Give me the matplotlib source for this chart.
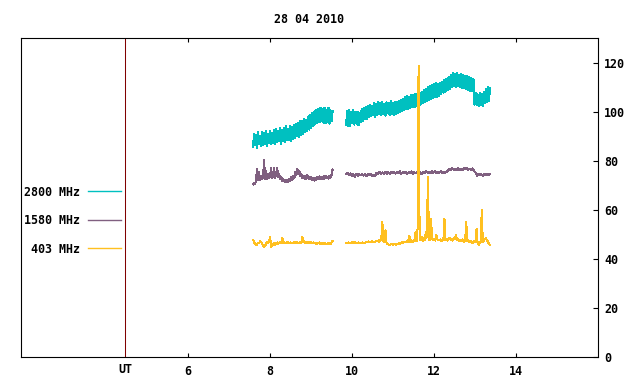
import numpy as np
import matplotlib
matplotlib.use("Agg")
import matplotlib.pyplot as plt
from matplotlib.lines import Line2D

# ---------------- data ----------------
title = "28 04 2010"
x_ticks = [6, 8, 10, 12, 14]
x_tick_labels = ["6", "8", "10", "12", "14"]
y_ticks = [0, 20, 40, 60, 80, 100, 120]
y_tick_labels = ["0", "20", "40", "60", "80", "100", "120"]
ut_x = 4.46
ut_label = "UT"
series_names = ["2800 MHz", "1580 MHz", "403 MHz"]

# sampling windows (UT hours) of the two recorded segments
seg1_start, seg1_end = 7.58, 9.52
seg2_start, seg2_end = 9.85, 13.36

f2800_seg1 = [
    85.8, 91.2, 86.4, 90.6, 85.2, 91.8, 86.8, 90.0, 86.0, 92.0,
    86.6, 91.4, 87.0, 92.4, 86.2, 91.0, 87.4, 92.2, 86.8, 91.6,
    87.2, 92.8, 86.8, 93.0, 87.6, 92.2, 88.0, 93.4, 87.0, 92.6,
    88.2, 93.6, 87.8, 94.2, 88.4, 93.0, 88.6, 94.4, 88.0, 94.0,
    89.0, 94.6, 89.4, 95.2, 90.0, 95.6, 89.6, 96.2, 90.6, 96.4,
    91.0, 97.2, 91.8, 96.8, 92.2, 98.2, 92.8, 98.8, 93.6, 99.6,
    94.2, 100.2, 95.0, 100.8, 95.4, 101.4, 95.8, 101.8, 96.2, 101.2,
    95.6, 101.6, 95.4, 101.0, 96.0, 101.8, 95.2, 100.6, 96.2, 100.2,
]
f2800_seg2 = [
    94.6, 100.2, 94.4, 100.6, 94.2, 99.8, 95.4, 101.0, 94.8, 99.8,
    95.2, 100.0, 94.6, 99.6, 95.8, 101.2, 96.4, 101.8, 97.0, 102.2,
    97.2, 102.6, 97.8, 103.0, 98.2, 102.4, 98.6, 103.6, 98.0, 103.2,
    98.8, 104.0, 99.0, 103.8, 98.6, 104.2, 99.2, 103.4, 98.4, 104.0,
    99.4, 103.8, 98.8, 104.4, 99.0, 103.6, 98.6, 104.0, 99.2, 104.2,
    99.6, 104.6, 100.0, 105.0, 100.4, 105.4, 100.8, 106.0, 101.2, 106.4,
    101.0, 106.2, 101.6, 106.8, 102.0, 107.0, 101.8, 107.4, 102.4, 107.2,
    102.2, 107.8, 103.0, 108.2, 103.6, 108.8, 104.0, 109.4, 104.6, 110.0,
    105.0, 110.4, 105.4, 110.8, 105.8, 111.2, 106.2, 111.6, 106.0, 111.4,
    106.6, 111.8, 107.2, 112.4, 107.8, 113.0, 108.2, 113.6, 108.8, 114.4,
    109.4, 115.0, 110.2, 116.0, 110.6, 115.4, 110.0, 115.8, 110.4, 115.2,
    110.0, 115.6, 109.8, 115.0, 109.6, 114.6, 109.2, 114.8, 108.8, 114.2,
    108.6, 113.8, 108.4, 113.4, 103.0, 107.8, 102.6, 107.2, 102.2, 107.6,
    102.8, 107.4, 102.4, 108.2, 103.6, 109.4, 104.2, 110.0, 104.6, 109.6,
]

f1580_seg1 = [
    70.5, 71.2, 70.8, 72.0, 76.8, 72.4, 75.5, 72.2, 74.0, 72.6,
    73.8, 80.5, 72.8, 75.8, 72.5, 74.6, 72.9, 74.2, 77.2, 73.0,
    74.5, 77.0, 73.2, 75.0, 77.2, 73.4, 74.6, 72.8, 73.6, 71.8,
    72.6, 71.6, 72.4, 71.4, 72.2, 71.5, 72.6, 71.8, 73.4, 72.2,
    74.0, 73.0, 75.4, 74.2, 76.8, 74.6, 75.8, 73.8, 74.6, 73.0,
    74.0, 72.8, 73.8, 72.6, 74.2, 72.8, 73.6, 72.6, 73.4, 72.2,
    73.0, 72.0, 73.2, 72.4, 73.6, 72.6, 73.8, 72.8, 73.4, 72.6,
    73.8, 72.8, 74.0, 73.0, 73.6, 72.8, 74.0, 73.2, 74.4, 76.5,
]
f1580_seg2 = [
    74.6, 75.2, 74.2, 75.0, 73.8, 74.6, 73.6, 74.8, 74.0, 74.6,
    74.2, 74.8, 74.0, 74.6, 73.8, 74.6, 74.2, 74.8, 73.8, 74.4,
    74.0, 75.2, 74.8, 75.6, 74.6, 75.4, 74.8, 75.6, 74.8, 75.4,
    74.8, 75.6, 75.0, 75.4, 74.8, 75.6, 75.0, 75.8, 74.8, 75.4,
    75.0, 75.6, 74.8, 75.4, 75.0, 75.8, 74.8, 75.4, 75.0, 75.6,
    75.0, 75.4, 74.6, 75.6, 75.0, 75.8, 75.2, 75.6, 75.0, 75.8,
    75.2, 75.8, 75.0, 75.6, 75.2, 75.8, 75.0, 75.6, 75.2, 75.4,
    76.0, 76.8, 76.2, 77.0, 76.4, 76.8, 76.2, 77.2, 76.4, 76.8,
    76.2, 77.0, 76.6, 77.2, 76.4, 76.8, 76.2, 77.0, 76.0, 75.2,
    74.0, 74.8, 74.2, 74.6, 74.0, 74.8, 74.2, 74.6, 74.4, 74.6,
]

f403_seg1 = [
    47.9, 47.0, 46.2, 45.8, 46.0, 46.6, 46.4, 47.2, 47.0, 46.4,
    45.6, 44.9, 45.4, 46.2, 47.0, 46.4, 47.2, 49.2, 45.0, 45.6,
    46.0, 46.6, 45.8, 46.4, 46.8, 46.2, 46.6, 47.0, 46.4, 48.8,
    46.6, 47.0, 46.4, 46.8, 46.6, 47.0, 46.4, 46.8, 46.6, 46.4,
    46.8, 46.6, 47.0, 46.6, 46.8, 46.4, 46.8, 47.0, 46.6, 49.2,
    46.8, 47.2, 46.6, 47.0, 46.4, 46.8, 46.6, 47.0, 46.4, 46.6,
    46.8, 46.4, 46.6, 46.2, 46.6, 46.4, 46.8, 46.2, 46.6, 46.4,
    46.2, 46.6, 46.4, 46.0, 46.4, 46.6, 46.2, 46.0, 46.8, 47.4,
]
f403_seg2 = [
    46.6, 46.4, 46.8, 46.6, 46.4, 46.8, 46.6, 47.0, 46.6, 46.8,
    46.4, 46.6, 46.8, 46.6, 46.4, 46.6, 46.8, 46.6, 46.4, 46.8,
    47.0, 46.8, 47.2, 46.8, 47.0, 47.4, 46.8, 47.2, 47.0, 47.4,
    47.2, 47.6, 47.0, 47.8, 48.0, 55.3, 47.4, 47.0, 51.7, 46.8,
    46.2, 46.0, 45.8, 46.0, 46.2, 45.8, 46.0, 46.2, 45.8, 46.0,
    46.2, 46.4, 46.2, 46.6, 46.8, 46.6, 47.0, 46.8, 47.2, 46.8,
    47.4, 49.6, 47.0, 47.6, 46.8, 47.4, 47.8, 50.9, 47.2, 52.4,
    118.9, 47.6, 48.2, 49.0, 47.4, 48.6, 47.6, 50.9, 48.8, 73.5,
    48.0, 47.6, 56.4, 48.2, 47.8, 48.4, 47.6, 50.0, 48.0, 47.8,
    47.6, 48.0, 47.4, 47.8, 48.2, 56.4, 47.8, 48.4, 47.6, 48.2,
    48.6, 47.8, 48.4, 47.6, 48.8, 48.2, 49.9, 47.8, 48.4, 47.4,
    47.8, 47.2, 48.0, 47.4, 47.0, 47.6, 55.3, 47.2, 47.6, 46.8,
    47.4, 47.0, 46.6, 47.2, 46.8, 47.6, 52.4, 46.4, 45.8, 46.6,
    47.0, 60.1, 46.8, 47.4, 48.2, 48.6, 47.8, 47.0, 46.2, 45.8,
]

colors = ["#00c0c0", "#806080", "#ffc020"]

# ---------------- figure ----------------
plt.rcParams["font.family"] = ["DejaVu Sans Mono"]
plt.rcParams["font.weight"] = "bold"
FS = 8.4
LW = 0.75

fig = plt.figure(figsize=(6.4, 3.84), dpi=100)
W, H = 640, 384
left, right, top, bottom = 20.5, 598.3, 38.3, 357.3
ax = fig.add_axes([left / W, 1 - bottom / H, (right - left) / W, (bottom - top) / H])

segments = [
    (f2800_seg1, f2800_seg2),
    (f1580_seg1, f1580_seg2),
    (f403_seg1, f403_seg2),
]
handles = []
for (s1, s2), c, name in zip(segments, colors, series_names):
    x1 = np.linspace(seg1_start, seg1_end, len(s1))
    x2 = np.linspace(seg2_start, seg2_end, len(s2))
    ax.plot(x1, s1, color=c, lw=LW, antialiased=False)
    ax.plot(x2, s2, color=c, lw=LW, antialiased=False)
    handles.append(Line2D([], [], color=c, lw=1.0))

ax.axvline(ut_x, color="#800000", lw=LW)

ax.set_xlim(1.91, 16.0)
ax.set_ylim(0, 130)

for sp in ax.spines.values():
    sp.set_linewidth(0.8)
    sp.set_color("black")

ax.set_xticks(x_ticks)
ax.set_xticklabels(x_tick_labels, fontsize=FS, fontweight="bold")
ax.tick_params(axis="x", direction="in", length=3, width=0.8, top=True,
               bottom=True, pad=5.6)
ax.yaxis.tick_right()
ax.set_yticks(y_ticks)
ax.set_yticklabels(y_tick_labels, fontsize=FS, fontweight="bold")
ax.tick_params(axis="y", direction="in", length=3.6, width=0.8, left=False,
               right=True, pad=4.3)

ax.annotate(ut_label, xy=(ut_x, 0), xycoords=("data", "axes fraction"),
            xytext=(0, -4), textcoords="offset points", ha="center", va="top",
            fontsize=FS, fontweight="bold")

ax.set_title(title, fontsize=FS, fontweight="bold", pad=11.2)

leg = ax.legend(handles, series_names, loc="upper right",
                bbox_to_anchor=(121 / W, 1 - 185.5 / H),
                bbox_transform=fig.transFigure, markerfirst=False,
                frameon=False, fontsize=FS, handlelength=2.83,
                handletextpad=0.69, labelspacing=1.33, borderpad=0,
                borderaxespad=0)
for t in leg.get_texts():
    t.set_fontweight("bold")

fig.savefig("out.png", dpi=100)
